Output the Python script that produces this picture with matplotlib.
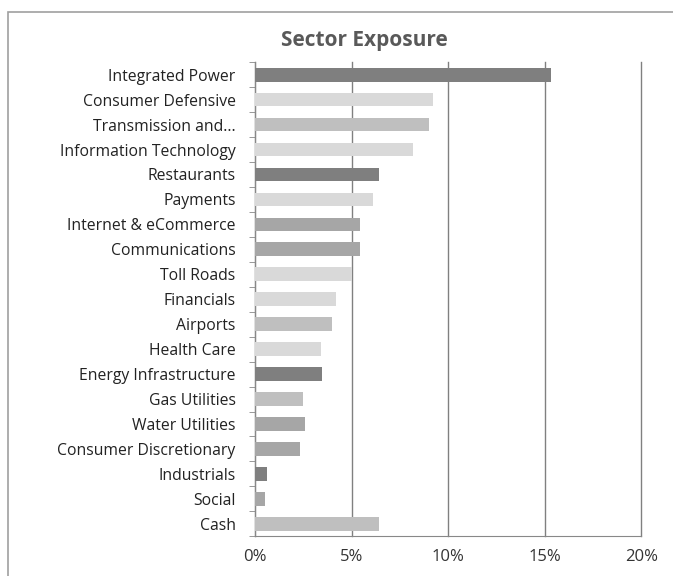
import matplotlib.pyplot as plt
from matplotlib.patches import Rectangle
from matplotlib.ticker import FuncFormatter
import numpy as np

sectors = ['Integrated Power', 'Consumer Defensive', 'Transmission and...',
           'Information Technology', 'Restaurants', 'Payments',
           'Internet & eCommerce', 'Communications', 'Toll Roads', 'Financials',
           'Airports', 'Health Care', 'Energy Infrastructure', 'Gas Utilities',
           'Water Utilities', 'Consumer Discretionary', 'Industrials', 'Social', 'Cash']
weights = [15.3, 9.2, 9.0, 8.2, 6.4, 6.1, 5.45, 5.45, 5.0, 4.2,
           4.0, 3.4, 3.45, 2.5, 2.6, 2.35, 0.6, 0.5, 6.4]
shades = ['#7f7f7f', '#d9d9d9', '#bfbfbf', '#d9d9d9', '#7f7f7f', '#d9d9d9',
          '#a6a6a6', '#a6a6a6', '#d9d9d9', '#d9d9d9', '#bfbfbf', '#d9d9d9',
          '#7f7f7f', '#bfbfbf', '#a6a6a6', '#a6a6a6', '#7f7f7f', '#a6a6a6', '#bfbfbf']
xticks = [0, 5, 10, 15, 20]

plt.rcParams['font.family'] = ['Open Sans', 'DejaVu Sans']

fig = plt.figure(figsize=(6.73, 5.76), dpi=100)
fig.patches.append(Rectangle((0.012, -0.01), 1.0, 0.99, transform=fig.transFigure,
                             fill=False, edgecolor='#a0a0a0', linewidth=1.2))
ax = fig.add_axes([0.379, 0.069, 0.574, 0.823])

y = np.arange(len(sectors))
ax.barh(y, weights, height=0.55, color=shades, zorder=3)
ax.set_ylim(len(sectors) - 0.5, -0.5)
ax.set_xlim(0, 20)
ax.set_yticks(y)
ax.set_yticklabels(sectors, fontsize=11.3, color='#222222')
ax.set_yticks(np.arange(len(sectors) + 1) - 0.5, minor=True)
ax.tick_params(axis='y', which='major', length=0, pad=14)
ax.tick_params(axis='y', which='minor', length=4, color='#888888')
ax.set_xticks(xticks)
ax.xaxis.set_major_formatter(FuncFormatter(lambda v, p: f'{v:.0f}%'))
ax.tick_params(axis='x', length=0, labelsize=12, labelcolor='#333333', pad=9)
ax.grid(axis='x', color='#808080', linewidth=1, zorder=0)
for gl in ax.get_xgridlines():
    gl.set_clip_on(False)
for s in ['top', 'right']:
    ax.spines[s].set_visible(False)
ax.spines['left'].set_color('#888888')
ax.spines['bottom'].set_color('#888888')

fig.text(0.541, 0.93, 'Sector Exposure', ha='center', va='center',
         fontsize=15, fontweight='bold', color='#595959')

fig.savefig('out.png', dpi=100)
